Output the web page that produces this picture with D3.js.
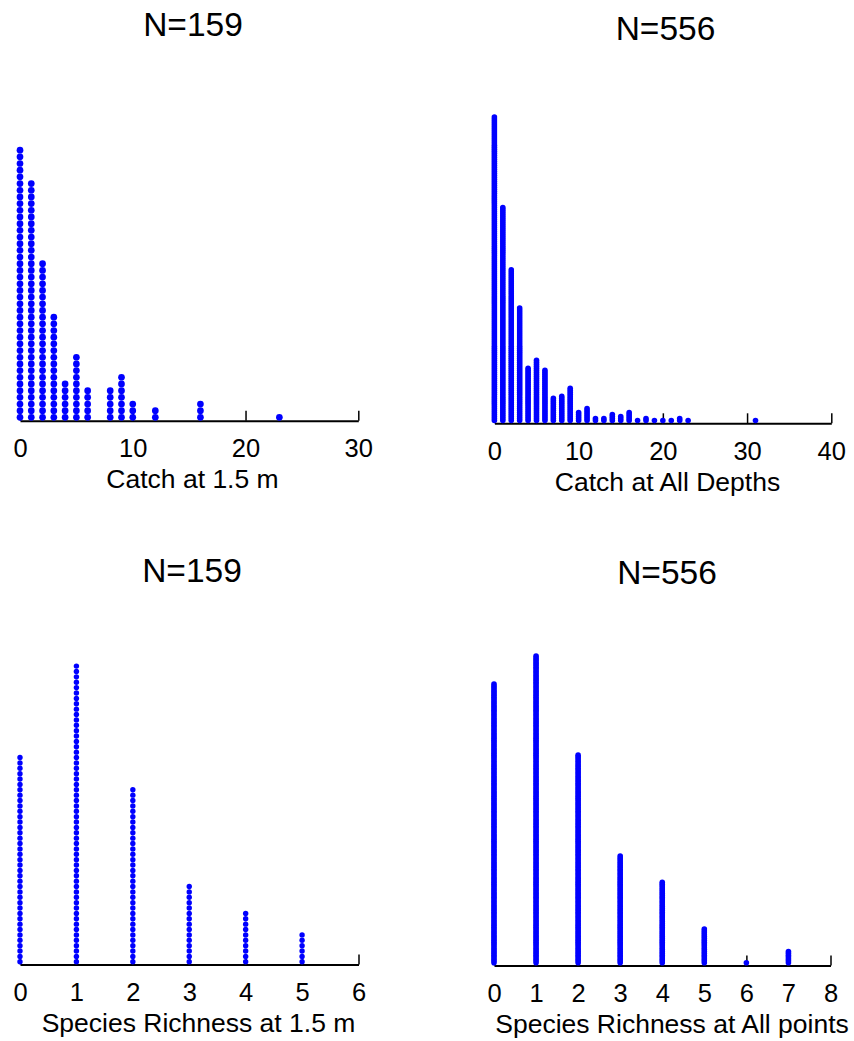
<!DOCTYPE html>
<html>
<head>
<meta charset="utf-8">
<script src="https://cdn.jsdelivr.net/npm/d3@7"></script>
<style>
  html, body { margin: 0; padding: 0; background: #fff; }
  svg { display: block; }
  text { font-family: "Liberation Sans", Arial, sans-serif; fill: #000; }
</style>
</head>
<body>
<svg id="chart" width="854" height="1041"></svg>
<script>
// ---------- DATA ----------
const catch15Values = [0, 1, 2, 3, 4, 5, 6, 8, 9, 10, 12, 16, 23];
const catch15Counts = [41, 36, 24, 16, 6, 10, 5, 5, 7, 3, 2, 3, 1];

const catchAllValues = [0, 1, 2, 3, 4, 5, 6, 7, 8, 9, 10, 11, 12, 13, 14, 15, 16, 17, 18, 19, 20, 21, 22, 23, 31];
const catchAllCounts = [152, 107, 76, 57, 27, 31, 26, 12, 13, 17, 5, 7, 2, 2, 4, 3, 5, 1, 2, 1, 1, 1, 2, 1, 1];

const rich15Values = [0, 1, 2, 3, 4, 5];
const rich15Counts = [39, 56, 33, 15, 10, 6];

const richAllValues = [0, 1, 2, 3, 4, 5, 6, 7];
const richAllCounts = [150, 165, 112, 58, 44, 19, 1, 7];

const titles = ["N=159", "N=556", "N=159", "N=556"];
const xLabels = ["Catch at 1.5 m", "Catch at All Depths", "Species Richness at 1.5 m", "Species Richness at All points"];
const tickCatch15 = [0, 10, 20, 30];
const tickCatchAll = [0, 10, 20, 30, 40];
const tickRich15 = [0, 1, 2, 3, 4, 5, 6];
const tickRichAll = [0, 1, 2, 3, 4, 5, 6, 7, 8];

// ---------- LAYOUT ----------
const panels = [
  { values: catch15Values, counts: catch15Counts, ticks: tickCatch15, xmax: 30, title: titles[0], label: xLabels[0],
    x0: 20, x1: 358.3, axisY: 420.7, r: 3.35, step: 6.68, titleX: 193, titleY: 36, labelX: 192.5 },
  { values: catchAllValues, counts: catchAllCounts, ticks: tickCatchAll, xmax: 40, title: titles[1], label: xLabels[1],
    x0: 494.4, x1: 831.3, axisY: 423.3, r: 2.8, step: 2.01, titleX: 665.5, titleY: 40, labelX: 667.5 },
  { values: rich15Values, counts: rich15Counts, ticks: tickRich15, xmax: 6, title: titles[2], label: xLabels[2],
    x0: 20, x1: 358.5, axisY: 964.5, r: 2.7, step: 5.376, titleX: 192, titleY: 582, labelX: 198.5 },
  { values: richAllValues, counts: richAllCounts, ticks: tickRichAll, xmax: 8, title: titles[3], label: xLabels[3],
    x0: 494, x1: 830.5, axisY: 965.5, r: 2.8, step: 1.87, titleX: 667, titleY: 584, labelX: 672 }
];

const svg = d3.select("#chart");

panels.forEach(p => {
  const g = svg.append("g");
  const x = d3.scaleLinear().domain([0, p.xmax]).range([p.x0, p.x1]);
  const maxC = d3.max(p.counts);
  const y = d3.scaleLinear().domain([0, maxC])
    .range([p.axisY - p.r, p.axisY - p.r - maxC * p.step]);

  // axis
  const axis = d3.axisBottom(x)
    .tickValues(p.ticks)
    .tickFormat(d3.format("d"))
    .tickSizeInner(-10)
    .tickSizeOuter(0)
    .tickPadding(18.5);
  const ax = g.append("g").attr("transform", `translate(0,${p.axisY})`).call(axis);
  ax.select(".domain").attr("stroke", "#000").attr("stroke-width", 2);
  ax.selectAll(".tick line").attr("stroke", "#000").attr("stroke-width", 1.5);
  ax.selectAll(".tick text")
    .attr("font-family", "Liberation Sans, Arial, sans-serif")
    .attr("font-size", 25.5)
    .attr("fill", "#000");

  // dots
  const dots = [];
  p.values.forEach((v, i) => {
    for (let k = 0; k < p.counts[i]; k++) dots.push({ v, k });
  });
  g.append("g").selectAll("circle").data(dots).join("circle")
    .attr("cx", d => x(d.v))
    .attr("cy", d => y(d.k))
    .attr("r", p.r)
    .attr("fill", "#0000ff");

  // title
  g.append("text")
    .attr("x", p.titleX).attr("y", p.titleY)
    .attr("text-anchor", "middle")
    .attr("font-size", 33.5)
    .text(p.title);

  // x label
  g.append("text")
    .attr("x", p.labelX).attr("y", p.axisY + 67.5)
    .attr("text-anchor", "middle")
    .attr("font-size", 26.5)
    .text(p.label);
});
</script>
</body>
</html>
